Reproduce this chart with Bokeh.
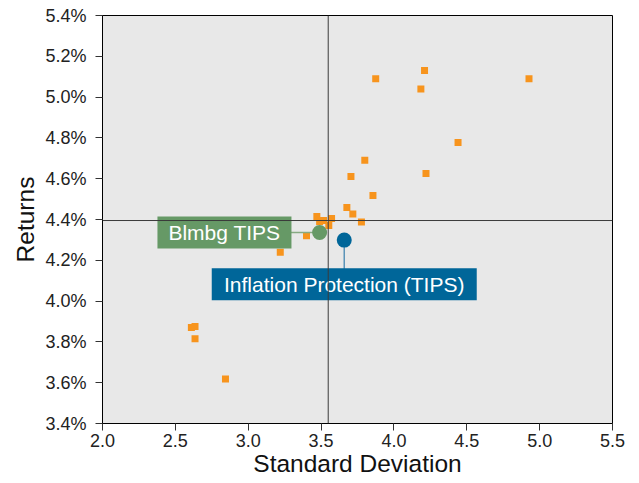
from bokeh.plotting import figure
from bokeh.models import Span, PrintfTickFormatter, FixedTicker, ColumnDataSource
from bokeh.core.properties import value
from bokeh.embed import file_html
from bokeh.resources import INLINE

# Peer universe (standard deviation, return %)
peer_sd = [4.21, 3.875, 4.927, 4.185, 4.44, 3.80, 3.705, 4.22, 3.856, 3.677,
           3.718, 3.777, 3.471, 3.572, 3.517, 3.553, 3.49, 3.40, 3.22, 2.61,
           2.635, 2.635, 2.844]
peer_ret = [5.13, 5.09, 5.09, 5.04, 4.778, 4.69, 4.611, 4.626, 4.518, 4.459,
            4.427, 4.388, 4.415, 4.405, 4.395, 4.371, 4.39, 4.32, 4.239, 3.87,
            3.875, 3.815, 3.618]

# Highlighted series
names = ["Blmbg TIPS", "Inflation Protection (TIPS)"]
hl_sd = [3.49, 3.659]
hl_ret = [4.336, 4.299]
hl_colors = ["#669966", "#006699"]
line_colors = ["#86aa82", "#5b93b8"]
# label box centers (annotation placement)
lab_sd = [2.837, 3.659]
lab_ret = [4.336, 4.082]
lab_w = [134, 265]

# crosshair (medians)
med_sd = 3.549
med_ret = 4.395

x_ticks = [2.0, 2.5, 3.0, 3.5, 4.0, 4.5, 5.0, 5.5]
y_ticks = [3.4, 3.6, 3.8, 4.0, 4.2, 4.4, 4.6, 4.8, 5.0, 5.2, 5.4]

FONT = "Liberation Sans"

p = figure(width=639, height=483, x_range=(2.0, 5.5), y_range=(3.4, 5.4),
           output_backend="svg", toolbar_location=None,
           min_border_left=102, min_border_right=27, min_border_top=15, min_border_bottom=60)

p.background_fill_color = "#e8e8e8"
p.border_fill_color = "white"
p.outline_line_color = "black"
p.outline_line_width = 1
p.grid.visible = False

for ax in (p.xaxis[0], p.yaxis[0]):
    ax.major_tick_in = 0
    ax.major_tick_out = 7
    ax.minor_tick_line_color = None
    ax.axis_line_color = "black"
    ax.major_tick_line_color = "#333333"
    ax.major_label_text_font = FONT
    ax.major_label_text_font_size = "18px"
    ax.major_label_text_color = "#222222"
    ax.axis_label_text_font = FONT
    ax.axis_label_text_font_size = "24.5px"
    ax.axis_label_text_font_style = "normal"
    ax.axis_label_text_color = "#111111"

p.xaxis.ticker = FixedTicker(ticks=x_ticks)
p.yaxis.ticker = FixedTicker(ticks=y_ticks)
p.xaxis.formatter = PrintfTickFormatter(format="%.1f")
p.yaxis.formatter = PrintfTickFormatter(format="%.1f%%")
p.xaxis.axis_label = "Standard Deviation"
p.yaxis.axis_label = "Returns"
p.xaxis.axis_label_standoff = 0
p.yaxis.axis_label_standoff = 3
p.xaxis.major_label_standoff = 3
p.yaxis.major_label_standoff = 9

p.add_layout(Span(location=med_sd, dimension="height", line_color="#3a3a3a", line_width=1))
p.add_layout(Span(location=med_ret, dimension="width", line_color="#3a3a3a", line_width=1))

p.scatter(peer_sd, peer_ret, marker="square", size=7, fill_color="#f7941d", line_color=None)

src = ColumnDataSource(dict(x0=hl_sd, y0=hl_ret, x1=lab_sd, y1=lab_ret, c=hl_colors,
                            lc=line_colors, w=lab_w, t=names))
p.segment("x0", "y0", "x1", "y1", source=src, line_color="lc", line_width=1.5)
p.scatter("x0", "y0", source=src, size=15, fill_color="c", line_color=None)
p.rect("x1", "y1", width="w", height=32, width_units="screen", height_units="screen",
       source=src, fill_color="c", line_color=None)
p.text("x1", "y1", text="t", source=src, text_align="center", text_baseline="middle",
       text_color="white", text_font=value(FONT), text_font_size="21px")

open("out.html", "w").write(file_html(p, INLINE))
